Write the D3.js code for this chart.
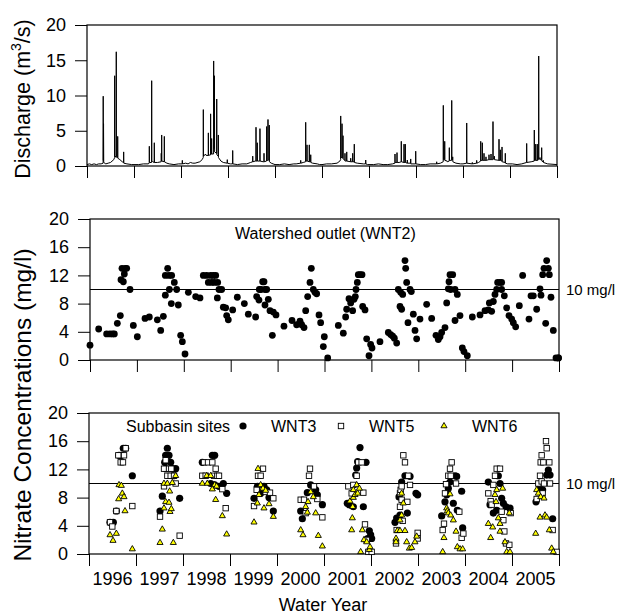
<!DOCTYPE html>
<html>
<head>
<meta charset="utf-8">
<script src="https://cdn.jsdelivr.net/npm/d3@7"></script>
<style>
  body { margin: 0; background: #fff; }
  svg text { font-family: "Liberation Sans", Arial, Helvetica, sans-serif; fill: #000; }
</style>
</head>
<body>
<div id="chart"></div>
<script>
// time is in water years since Oct 1 1995 (0 = start of WY1996, 10 = end of WY2005)
const waterYears = [1996, 1997, 1998, 1999, 2000, 2001, 2002, 2003, 2004, 2005];
const dischargeTicks = [0, 5, 10, 15, 20];
const nitrateTicks = [0, 4, 8, 12, 16, 20];
const nitrateLimit = 10;

// daily discharge (m3/s): [time, value]
const discharge = [
  [0,0.2],[0.05,0.3],[0.1,0.2],[0.15,0.3],[0.2,0.2],[0.25,0.3],[0.3,0.3],[0.343,0.4],[0.345,9.9],[0.348,0.8],[0.352,6.0],[0.356,0.5],
  [0.4,0.3],[0.45,0.4],[0.5,0.5],[0.57,0.9],[0.587,1.2],[0.589,12.8],[0.592,1.5],[0.621,1.2],[0.623,16.2],[0.626,1.4],[0.651,1.2],[0.653,4.2],[0.656,1.1],
  [0.7,0.9],[0.75,0.6],[0.778,0.5],[0.78,2.0],[0.783,0.4],[0.85,0.3],[0.95,0.2],
  [1.0,0.2],[1.1,0.2],[1.2,0.3],[1.3,0.3],[1.324,0.4],[1.326,2.8],[1.329,0.5],[1.374,0.5],[1.376,12.1],[1.379,0.8],[1.4,0.6],[1.43,0.5],[1.432,3.3],[1.435,0.5],
  [1.5,0.5],[1.578,0.6],[1.58,1.8],[1.583,0.7],[1.587,0.7],[1.589,4.4],[1.592,0.7],[1.643,0.6],[1.645,4.2],[1.648,0.6],[1.7,0.4],[1.75,0.3],[1.85,0.2],[1.95,0.3],
  [2.0,0.3],[2.026,0.3],[2.028,0.8],[2.031,0.3],[2.1,0.4],[2.15,0.3],[2.2,0.5],[2.25,0.4],[2.3,0.4],[2.4,0.6],[2.45,0.9],[2.473,1.2],[2.475,8.0],[2.478,1.4],
  [2.5,1.5],[2.52,1.7],[2.535,1.5],[2.58,1.5],[2.582,4.7],[2.585,1.5],[2.628,1.6],[2.63,7.4],[2.633,1.6],[2.65,1.7],[2.652,3.9],[2.655,1.7],[2.693,1.7],[2.695,14.9],
  [2.698,2.5],[2.71,2.5],[2.712,12.8],[2.715,2.0],[2.758,1.8],[2.76,9.5],[2.763,1.6],[2.792,1.4],[2.794,4.4],[2.797,1.2],[2.85,0.7],[2.9,0.5],[2.983,0.4],[2.985,0.9],[2.988,0.4],
  [3.05,0.3],[3.098,0.3],[3.1,2.2],[3.103,0.3],[3.2,0.2],[3.3,0.3],[3.4,0.3],[3.48,0.5],[3.524,0.6],[3.526,1.4],[3.529,0.6],[3.58,0.7],[3.594,0.7],[3.596,5.5],[3.599,0.7],
  [3.621,0.7],[3.623,3.3],[3.626,0.7],[3.678,0.7],[3.68,5.3],[3.683,0.7],[3.75,0.6],[3.764,0.6],[3.766,1.8],[3.769,0.6],[3.82,0.7],[3.823,5.6],[3.826,0.8],[3.849,0.8],[3.851,6.6],
  [3.854,0.9],[3.876,0.8],[3.878,5.8],[3.881,0.6],[3.92,0.4],[3.96,0.3],
  [4.0,0.2],[4.1,0.2],[4.2,0.3],[4.3,0.2],[4.4,0.3],[4.45,0.3],[4.545,0.4],[4.547,0.8],[4.55,0.4],[4.6,0.5],[4.651,0.6],[4.653,6.2],[4.656,0.7],[4.679,0.7],[4.681,3.0],[4.684,0.7],
  [4.728,0.6],[4.73,3.0],[4.733,0.6],[4.758,0.6],[4.76,1.6],[4.763,0.5],[4.8,0.4],[4.9,0.3],[4.95,0.2],
  [5.0,0.2],[5.1,0.3],[5.2,0.3],[5.32,0.4],[5.38,0.7],[5.396,0.9],[5.398,7.1],[5.401,1.2],[5.424,1.2],[5.426,6.0],[5.429,1.2],[5.445,1.1],[5.447,4.3],[5.45,1.0],
  [5.487,0.8],[5.489,1.8],[5.492,0.7],[5.524,0.7],[5.526,2.0],[5.529,0.7],[5.609,0.6],[5.611,1.1],[5.614,0.6],[5.651,0.6],[5.653,1.8],[5.656,0.6],[5.685,0.6],[5.687,3.1],
  [5.69,0.5],[5.75,0.4],[5.88,0.3],[5.928,0.3],[5.93,0.85],[5.933,0.3],[5.97,0.2],
  [6.1,0.2],[6.2,0.3],[6.3,0.2],[6.4,0.2],[6.5,0.3],[6.551,0.4],[6.553,1.7],[6.556,0.5],[6.594,0.5],[6.596,1.9],[6.599,0.5],[6.64,0.5],[6.685,0.6],[6.687,3.5],[6.69,0.6],
  [6.743,0.5],[6.745,3.1],[6.748,0.5],[6.77,0.5],[6.772,3.1],[6.775,0.5],[6.813,0.4],[6.815,0.85],[6.818,0.4],[6.885,0.4],[6.887,1.0],[6.89,0.3],[6.992,0.3],[6.994,2.1],[6.997,0.3],
  [7.1,0.2],[7.2,0.2],[7.3,0.3],[7.438,0.3],[7.44,0.6],[7.443,0.3],[7.52,0.4],[7.579,0.6],[7.581,8.6],[7.584,0.9],[7.609,0.9],[7.611,3.5],[7.614,0.8],[7.664,0.7],[7.666,0.6],
  [7.707,0.7],[7.709,2.6],[7.712,0.8],[7.758,0.8],[7.76,9.3],[7.763,0.9],[7.779,0.9],[7.781,1.3],[7.784,0.6],[7.85,0.4],[7.95,0.3],
  [8.0,0.3],[8.077,0.4],[8.079,6.1],[8.082,0.4],[8.196,0.3],[8.198,0.5],[8.201,0.3],[8.289,0.4],[8.291,0.8],[8.294,0.4],[8.33,0.5],[8.375,0.7],[8.377,3.5],[8.38,0.8],
  [8.409,0.8],[8.411,3.3],[8.414,0.8],[8.445,0.8],[8.447,1.8],[8.45,0.8],[8.487,0.8],[8.489,1.3],[8.492,0.8],[8.551,0.9],[8.553,1.6],[8.556,0.9],[8.594,0.9],[8.596,1.7],
  [8.599,0.9],[8.636,0.9],[8.638,6.3],[8.641,1.0],[8.664,1.0],[8.666,1.4],[8.669,0.9],[8.764,0.8],[8.766,3.8],[8.769,0.8],[8.792,0.8],[8.794,2.3],[8.797,0.8],[8.828,0.7],
  [8.83,2.7],[8.833,0.6],[8.898,0.5],[8.9,1.8],[8.903,0.4],[8.95,0.3],
  [9.05,0.3],[9.15,0.2],[9.25,0.3],[9.353,0.5],[9.355,3.2],[9.358,0.5],[9.45,0.6],[9.515,0.7],[9.517,5.1],[9.52,0.8],[9.545,0.8],[9.547,3.1],[9.55,0.8],[9.579,0.8],[9.581,3.1],
  [9.584,0.8],[9.609,0.9],[9.611,15.6],[9.614,1.0],[9.636,1.0],[9.638,1.2],[9.641,0.9],[9.672,0.9],[9.674,2.6],[9.677,0.7],[9.707,0.6],[9.709,0.8],[9.712,0.5],[9.8,0.3],[10,0.2]
];

// watershed outlet WNT2 nitrate (mg/l): [time, value]
const wnt2 = [
  [0.0,2.1],[0.185,4.4],[0.355,3.7],[0.426,3.7],[0.483,3.7],[0.519,3.7],[0.583,5.2],[0.647,6.3],[0.661,11.4],[0.682,13.0],[0.711,11.1],[0.732,12.2],[0.753,13.0],
  [0.782,13.0],[0.853,10.0],[0.924,4.9],[1.009,3.3],[1.173,5.9],[1.265,6.1],[1.436,5.7],[1.507,4.2],[1.564,6.2],[1.606,9.2],[1.606,12.0],[1.656,13.0],[1.684,12.0],
  [1.741,12.0],[1.692,10.0],[1.734,8.0],[1.798,11.0],[1.848,10.0],[1.883,7.8],[1.933,3.5],[1.969,2.6],[2.026,0.85],[2.097,9.6],[2.253,9.0],[2.345,8.8],[2.416,12.0],
  [2.488,12.0],[2.573,12.0],[2.63,12.0],[2.68,12.0],[2.523,11.0],[2.594,11.0],[2.651,11.0],[2.722,11.0],[2.715,8.8],[2.751,10.0],[2.807,10.0],[2.843,7.5],[2.893,7.4],
  [2.914,6.3],[2.949,5.7],[3.042,7.1],[3.141,8.9],[3.291,8.0],[3.376,6.5],[3.532,6.1],[3.554,9.0],[3.603,8.5],[3.61,10.0],[3.646,10.0],[3.682,11.1],[3.71,11.1],
  [3.731,10.0],[3.767,10.0],[3.731,7.8],[3.802,8.6],[3.838,7.0],[3.909,6.8],[3.966,6.4],[3.888,3.5],[4.136,4.8],[4.307,5.6],[4.406,5.0],[4.478,5.5],[4.513,5.0],
  [4.563,4.6],[4.599,7.0],[4.641,9.0],[4.691,11.0],[4.719,13.0],[4.762,10.0],[4.797,9.6],[4.833,9.4],[4.883,6.4],[4.918,5.3],[4.996,3.3],[4.975,1.9],[5.068,0.3],
  [5.295,4.9],[5.401,3.8],[5.451,6.1],[5.473,7.2],[5.522,8.7],[5.558,8.1],[5.6,7.0],[5.629,8.6],[5.657,9.0],[5.672,10.0],[5.7,11.0],[5.721,12.1],[5.757,12.1],
  [5.8,12.1],[5.814,7.6],[5.864,7.1],[5.899,3.0],[5.949,0.6],[5.984,2.2],[6.013,1.7],[6.183,2.6],[6.361,3.9],[6.411,3.6],[6.453,3.4],[6.489,3.1],[6.539,2.4],
  [6.574,10.0],[6.624,9.6],[6.61,7.6],[6.645,7.2],[6.667,9.3],[6.716,14.1],[6.731,13.0],[6.752,11.0],[6.78,5.3],[6.823,10.0],[6.851,9.7],[6.894,6.5],[6.93,4.2],
  [6.965,3.0],[7.036,5.8],[7.178,7.9],[7.285,5.9],[7.377,3.5],[7.427,2.9],[7.463,3.3],[7.498,3.9],[7.569,4.6],[7.605,8.1],[7.64,10.1],[7.655,11.1],[7.676,12.1],
  [7.733,12.1],[7.69,10.0],[7.783,10.0],[7.832,9.3],[7.783,5.6],[7.889,6.3],[7.939,1.7],[7.974,1.2],[8.045,0.6],[8.152,6.1],[8.316,6.4],[8.422,7.0],[8.493,7.1],
  [8.564,6.9],[8.515,8.1],[8.6,8.3],[8.635,9.3],[8.671,10.0],[8.692,11.0],[8.742,11.0],[8.777,11.0],[8.777,10.0],[8.834,9.1],[8.884,7.4],[8.934,6.3],[8.991,5.8],
  [9.026,5.3],[9.076,4.7],[9.154,7.7],[9.225,12.0],[9.36,5.8],[9.403,9.1],[9.453,9.1],[9.524,7.2],[9.595,10.1],[9.616,9.2],[9.652,12.1],[9.68,13.0],[9.737,14.1],
  [9.773,13.0],[9.794,12.1],[9.716,5.2],[9.829,8.9],[9.879,4.2],[9.936,0.3],[9.986,0.3],[9.99,0.3]
];

// subbasin sites nitrate (mg/l): [time, value]
const wnt3 = [
  [0.447,4.5],[0.518,4.5],[0.582,6.1],[0.638,14.0],[0.688,14.0],[0.73,15.0],[0.78,15.0],[0.922,11.1],
  [1.511,6.1],[1.56,8.2],[1.61,13.0],[1.631,14.0],[1.631,12.1],[1.667,15.0],[1.702,14.0],[1.738,13.0],[1.773,12.1],[1.794,11.1],[1.844,12.1],[1.929,7.9],
  [2.411,13.0],[2.589,10.0],[2.624,14.0],[2.674,14.0],[2.674,9.8],[2.766,9.6],[2.858,10.0],[2.929,8.6],
  [3.511,7.9],[3.582,9.6],[3.652,8.6],[3.723,9.6],[3.78,9.1],[3.83,8.0],[3.922,6.1],
  [4.504,6.1],[4.539,5.0],[4.645,8.7],[4.716,9.8],[4.823,9.1],[4.858,8.4],[4.965,7.0],
  [5.496,7.2],[5.539,7.0],[5.624,6.7],[5.674,11.2],[5.695,12.2],[5.716,13.1],[5.766,15.1],[5.837,6.7],[5.894,13.0],[5.929,2.2],[5.964,3.3],[5.993,2.7],[6.014,2.2],
  [6.511,4.5],[6.546,5.1],[6.596,8.1],[6.617,5.5],[6.652,10.2],[6.723,11.1],[6.773,5.8],[6.83,11.0],[6.957,8.6],[6.993,8.4],
  [7.504,5.4],[7.574,7.4],[7.61,8.4],[7.645,9.3],[7.681,10.2],[7.752,7.2],[7.787,11.1],[7.823,11.0],[7.837,6.2],[7.929,8.9],[7.95,3.7],
  [8.496,10.2],[8.532,7.0],[8.603,5.8],[8.674,6.2],[8.709,11.1],[8.745,10.0],[8.78,7.9],[8.816,7.2],[8.872,6.7],[8.957,6.5],
  [9.511,7.4],[9.596,9.3],[9.652,9.1],[9.738,11.2],[9.773,11.9],[9.809,11.2],[9.865,5.0]
];
const wnt5 = [
  [0.447,4.5],[0.496,3.9],[0.582,6.1],[0.624,14.0],[0.674,13.0],[0.723,13.0],[0.745,14.0],[0.78,15.0],[0.922,6.8],
  [1.511,5.3],[1.596,9.6],[1.596,12.1],[1.631,13.3],[1.667,11.1],[1.702,12.1],[1.738,11.1],[1.751,12.1],[1.809,11.1],[1.844,10.0],[1.929,2.6],
  [2.411,11.1],[2.447,13.0],[2.482,11.1],[2.532,13.0],[2.624,13.0],[2.66,11.1],[2.695,12.1],[2.73,11.1],[2.766,11.1],[2.837,9.2],[2.908,6.5],
  [3.511,6.8],[3.567,9.1],[3.596,11.1],[3.652,11.1],[3.702,12.1],[3.759,8.8],[3.851,8.7],[3.922,7.9],
  [4.504,7.7],[4.574,7.7],[4.61,5.8],[4.681,11.1],[4.702,12.1],[4.787,9.6],[4.858,7.8],[4.965,5.2],
  [5.518,9.6],[5.589,8.6],[5.624,9.8],[5.695,11.1],[5.73,13.0],[5.801,13.0],[5.837,8.7],[5.872,4.2],[5.908,2.0],[5.943,0.3],[6.014,0.3],
  [6.532,1.5],[6.546,3.4],[6.617,8.6],[6.617,6.7],[6.631,9.1],[6.652,9.6],[6.652,7.7],[6.674,4.7],[6.688,14.0],[6.723,13.0],[6.773,7.4],[6.794,11.1],[6.83,9.8],[6.993,3.0],[6.993,2.2],
  [7.525,3.4],[7.553,4.3],[7.574,8.6],[7.596,9.9],[7.645,11.1],[7.681,12.1],[7.695,11.1],[7.716,13.0],[7.809,10.0],[7.879,6.0],[7.929,2.3],[7.965,2.9],
  [8.496,8.6],[8.546,7.5],[8.567,7.0],[8.603,9.8],[8.638,11.1],[8.674,12.1],[8.745,12.1],[8.78,6.0],[8.816,4.8],[8.837,3.2],[8.872,1.5],[8.943,1.3],[8.972,5.8],
  [9.525,7.8],[9.56,10.0],[9.596,11.1],[9.61,13.0],[9.631,14.0],[9.631,10.3],[9.652,8.6],[9.667,13.0],[9.681,10.0],[9.723,16.0],[9.738,15.0],[9.794,13.0],[9.809,10.0],[9.865,3.4],[9.95,0.3]
];
const wnt6 = [
  [0.447,2.7],[0.511,1.9],[0.582,2.9],[0.631,7.8],[0.638,9.8],[0.688,9.7],[0.709,8.6],[0.745,8.1],[0.766,6.1],[0.922,0.7],
  [1.511,1.6],[1.56,3.5],[1.596,6.5],[1.596,10.0],[1.631,7.4],[1.667,10.0],[1.702,7.3],[1.716,8.9],[1.723,6.0],[1.751,6.4],[1.773,10.1],[1.794,1.6],[1.844,11.1],
  [2.411,10.0],[2.504,11.1],[2.518,10.0],[2.589,11.1],[2.624,9.2],[2.674,9.8],[2.695,7.7],[2.716,9.6],[2.837,5.4],[2.929,2.8],
  [3.511,4.5],[3.582,7.2],[3.596,12.1],[3.617,8.4],[3.652,9.8],[3.702,9.3],[3.723,6.5],[3.759,9.0],[3.83,7.1],[3.922,5.3],
  [4.504,3.4],[4.553,2.7],[4.61,6.7],[4.645,5.9],[4.66,7.4],[4.716,8.8],[4.773,8.1],[4.823,5.8],[4.879,2.6],[4.965,1.1],
  [5.553,7.5],[5.589,3.4],[5.603,5.1],[5.61,6.7],[5.624,9.1],[5.624,8.0],[5.66,8.4],[5.695,9.8],[5.716,8.6],[5.752,9.3],[5.78,0.3],[5.816,3.4],[5.851,2.0],
  [5.908,1.7],[5.965,0.6],[5.979,1.0],
  [6.532,2.2],[6.532,1.7],[6.56,3.3],[6.617,3.3],[6.617,4.8],[6.652,5.5],[6.652,8.6],[6.688,7.2],[6.723,3.3],[6.759,1.7],[6.816,0.8],[6.865,0.9],[6.936,1.7],[6.972,2.5],
  [7.525,0.3],[7.553,2.3],[7.61,6.5],[7.624,6.1],[7.645,5.8],[7.681,8.5],[7.695,5.5],[7.752,4.8],[7.809,3.2],[7.837,1.0],[7.894,0.7],[7.95,0.7],
  [8.496,4.3],[8.546,2.3],[8.589,3.8],[8.638,8.4],[8.66,7.4],[8.674,9.1],[8.709,5.1],[8.745,4.3],[8.745,3.2],[8.801,9.3],[8.851,1.7],[8.887,0.3],[8.943,5.8],[8.957,0.3],
  [9.504,2.9],[9.525,9.1],[9.56,8.6],[9.596,5.2],[9.61,8.1],[9.681,7.9],[9.702,5.5],[9.738,5.2],[9.794,3.4],[9.844,0.8],[9.879,0.3]
];

const width = 618;
const height = 616;
const tickFont = 18;

const svg = d3.select('#chart')
  .append('svg')
    .attr('width', width)
    .attr('height', height)
    .attr('viewBox', [0, 0, width, height]);

// draw a boxed panel with left ticks and year ticks underneath
const drawPanel = (box, yMax, yTicks) => {
  const x = d3.scaleLinear().domain([0, 10]).range([box.left, box.right]);
  const y = d3.scaleLinear().domain([0, yMax]).range([box.bottom, box.top]);

  svg.append('g')
      .attr('transform', `translate(${box.left},0)`)
      .call(d3.axisLeft(y).tickValues(yTicks).tickSize(12).tickPadding(9))
      .call(g => g.select('.domain').remove())
      .call(g => g.selectAll('text')
        .attr('font-size', tickFont)
        .attr('font-family', '"Liberation Sans", Arial, sans-serif'));

  svg.append('g')
      .attr('transform', `translate(0,${box.bottom})`)
      .call(d3.axisBottom(x).tickValues(d3.range(0, 11)).tickSize(12).tickFormat(''))
      .call(g => g.select('.domain').remove());

  svg.append('rect')
      .attr('x', box.left)
      .attr('y', box.top)
      .attr('width', box.right - box.left)
      .attr('height', box.bottom - box.top)
      .attr('fill', 'none')
      .attr('stroke', '#000')
      .attr('stroke-width', 1.2);

  return {x, y};
};

// ---- discharge panel
const qPanel = drawPanel({left: 87, right: 557, top: 25, bottom: 166}, 20, dischargeTicks);
svg.append('path')
    .datum(discharge)
    .attr('fill', 'none')
    .attr('stroke', '#000')
    .attr('stroke-width', 1)
    .attr('d', d3.line().x(d => qPanel.x(d[0])).y(d => qPanel.y(d[1])));

// ---- watershed outlet panel
const outletPanel = drawPanel({left: 90, right: 559, top: 219, bottom: 360}, 20, nitrateTicks);
svg.append('line')
    .attr('x1', outletPanel.x(0)).attr('x2', outletPanel.x(10))
    .attr('y1', outletPanel.y(nitrateLimit)).attr('y2', outletPanel.y(nitrateLimit))
    .attr('stroke', '#000');
svg.append('g')
  .selectAll('circle')
  .data(wnt2)
  .join('circle')
    .attr('cx', d => outletPanel.x(d[0]))
    .attr('cy', d => outletPanel.y(d[1]))
    .attr('r', 3.4)
    .attr('fill', '#000');
svg.append('text')
    .attr('x', 235)
    .attr('y', 239)
    .attr('font-size', 16)
    .text('Watershed outlet (WNT2)');
svg.append('text')
    .attr('x', 566)
    .attr('y', outletPanel.y(nitrateLimit) + 5)
    .attr('font-size', 15)
    .text('10 mg/l');

// ---- subbasin panel
const subPanel = drawPanel({left: 89, right: 559, top: 413, bottom: 554}, 20, nitrateTicks);
svg.append('line')
    .attr('x1', subPanel.x(0)).attr('x2', subPanel.x(10))
    .attr('y1', subPanel.y(nitrateLimit)).attr('y2', subPanel.y(nitrateLimit))
    .attr('stroke', '#000');

const tri = d3.symbol().type(d3.symbolTriangle).size(16);
const sq = 5.4;

svg.append('g')
  .selectAll('circle')
  .data(wnt3)
  .join('circle')
    .attr('cx', d => subPanel.x(d[0]))
    .attr('cy', d => subPanel.y(d[1]))
    .attr('r', 3.6)
    .attr('fill', '#000');
svg.append('g')
  .selectAll('rect')
  .data(wnt5)
  .join('rect')
    .attr('x', d => subPanel.x(d[0]) - sq / 2)
    .attr('y', d => subPanel.y(d[1]) - sq / 2)
    .attr('width', sq)
    .attr('height', sq)
    .attr('fill', '#fff')
    .attr('stroke', '#000')
    .attr('stroke-width', 0.9);
svg.append('g')
  .selectAll('path')
  .data(wnt6)
  .join('path')
    .attr('transform', d => `translate(${subPanel.x(d[0])},${subPanel.y(d[1])})`)
    .attr('d', tri)
    .attr('fill', '#ffff00')
    .attr('stroke', '#000')
    .attr('stroke-width', 0.9);

svg.append('text')
    .attr('x', 566)
    .attr('y', subPanel.y(nitrateLimit) + 5)
    .attr('font-size', 15)
    .text('10 mg/l');

// legend
const legendY = 426;
svg.append('text').attr('x', 126).attr('y', legendY + 6).attr('font-size', 16).text('Subbasin sites');
svg.append('circle').attr('cx', 243).attr('cy', legendY).attr('r', 3.6).attr('fill', '#000');
svg.append('text').attr('x', 271).attr('y', legendY + 6).attr('font-size', 16).text('WNT3');
svg.append('rect')
    .attr('x', 341 - sq / 2).attr('y', legendY - sq / 2)
    .attr('width', sq).attr('height', sq)
    .attr('fill', '#fff').attr('stroke', '#000').attr('stroke-width', 0.9);
svg.append('text').attr('x', 369).attr('y', legendY + 6).attr('font-size', 16).text('WNT5');
svg.append('path')
    .attr('transform', `translate(444,${legendY})`)
    .attr('d', tri)
    .attr('fill', '#ffff00').attr('stroke', '#000').attr('stroke-width', 0.9);
svg.append('text').attr('x', 472).attr('y', legendY + 6).attr('font-size', 16).text('WNT6');

// year labels centred in each water year
svg.append('g')
  .selectAll('text')
  .data(waterYears)
  .join('text')
    .attr('x', (d, i) => subPanel.x(i + 0.5))
    .attr('y', 585)
    .attr('text-anchor', 'middle')
    .attr('font-size', tickFont)
    .text(d => d);

// axis titles
svg.append('text')
    .attr('x', 323)
    .attr('y', 611)
    .attr('text-anchor', 'middle')
    .attr('font-size', 18)
    .text('Water Year');

const dischargeTitle = svg.append('text')
    .attr('transform', `translate(30,99) rotate(-90)`)
    .attr('text-anchor', 'middle')
    .attr('font-size', 21.5);
dischargeTitle.append('tspan').text('Discharge (m');
dischargeTitle.append('tspan').attr('font-size', 14).attr('dy', -9).text('3');
dischargeTitle.append('tspan').attr('dy', 9).text('/s)');

svg.append('text')
    .attr('transform', `translate(31,405) rotate(-90)`)
    .attr('text-anchor', 'middle')
    .attr('font-size', 24.5)
    .text('Nitrate Concentrations (mg/l)');
</script>
</body>
</html>
